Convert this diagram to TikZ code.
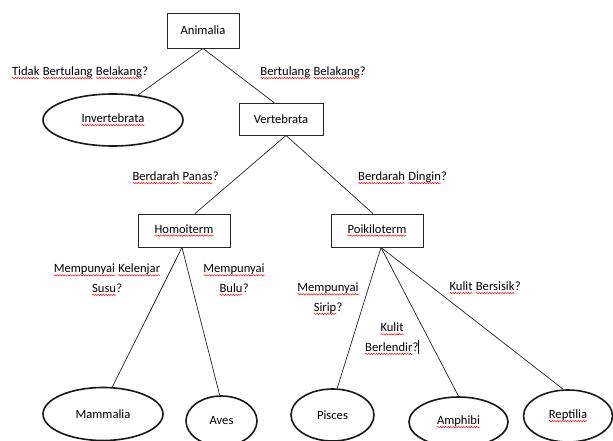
\documentclass[tikz,border=0pt]{standalone}
\usepackage{fontspec}
\setmainfont{Carlito}
\usetikzlibrary{shapes.geometric,decorations.pathmorphing}
\newcommand\sq[1]{\tikz[baseline=(sqw.base)]{\node[shape=rectangle, draw=none, minimum width=0pt, minimum height=0pt, inner sep=0pt, outer sep=0pt] (sqw) {#1};
  \draw[red, line width=0.45pt, decorate, decoration={snake, amplitude=0.7pt, segment length=2.6pt}]
    ([yshift=-2.4pt]sqw.base west) -- ([yshift=-2.4pt]sqw.base east);}}
\begin{document}
\begin{tikzpicture}[x=1pt,y=-1pt,
  every node/.style={font=\fontsize{12.6}{19.5}\selectfont, text=black},
  boxnode/.style={draw=black!85, line width=0.9pt, rectangle, inner sep=0pt},
  ellnode/.style={draw=black!90, line width=1.6pt, ellipse, inner sep=0pt},
  conn/.style={line width=0.7pt, draw=black!85},
  lbl/.style={align=center, inner sep=0pt}]
\fill[white] (0,0) rectangle (613,441);
\useasboundingbox (0,0) rectangle (613,441);
\clip (0,0) rectangle (613,441);
% nodes
\node[boxnode, minimum width=72pt, minimum height=35pt] (an) at (203,30.5) {Animalia};
\node[ellnode, minimum width=140pt, minimum height=52pt] (inv) at (113,120) {\sq{Invertebrata}};
\node[boxnode, minimum width=84pt, minimum height=32pt] (vert) at (281,119) {Vertebrata};
\node[boxnode, minimum width=92pt, minimum height=33pt] (hom) at (184,230.5) {\sq{Homoiterm}};
\node[boxnode, minimum width=92pt, minimum height=33pt] (poi) at (377,230.5) {\sq{Poikiloterm}};
\node[ellnode, minimum width=120pt, minimum height=53pt] (mam) at (103,414) {Mammalia};
\node[ellnode, minimum width=71pt, minimum height=50pt] (ave) at (221.5,421) {Aves};
\node[ellnode, minimum width=83pt, minimum height=52pt] (pis) at (332.5,415) {Pisces};
\node[ellnode, minimum width=99pt, minimum height=50pt] (amp) at (458.5,422) {\sq{Amphibi}};
\node[ellnode, minimum width=89pt, minimum height=52pt] (rep) at (568,416) {\sq{Reptilia}};
% labels
\node[lbl] (l1) at (80,73) {\sq{Tidak} \sq{Bertulang} \sq{Belakang}?};
\node[lbl] (l2) at (313,73) {\sq{Bertulang} \sq{Belakang}?};
\node[lbl] (l3) at (175.5,178) {\sq{Berdarah} \sq{Panas}?};
\node[lbl] (l4) at (402.5,178) {\sq{Berdarah} \sq{Dingin}?};
\node[lbl] (l5) at (107,280) {\sq{Mempunyai} \sq{Kelenjar}\\\sq{Susu}?};
\node[lbl] (l6) at (234,280) {\sq{Mempunyai}\\\sq{Bulu}?};
\node[lbl] (l7) at (328,299) {\sq{Mempunyai}\\\sq{Sirip}?};
\node[lbl] (l8) at (392,339) {\sq{Kulit}\\\sq{Berlendir}?\rule[-3pt]{0.5pt}{14pt}};
\node[lbl] (l9) at (485,288) {\sq{Kulit} \sq{Bersisik}?};
% connectors
\draw[conn] (an.south) -- (inv.45);
\draw[conn] (an.south) -- ([xshift=-7pt]vert.north);
\draw[conn] ([xshift=5pt]vert.south) -- ([xshift=11pt]hom.north);
\draw[conn] ([xshift=5pt]vert.south) -- ([xshift=-4pt]poi.north);
\draw[conn] ([xshift=-2pt]hom.south) -- (mam.71);
\draw[conn] ([xshift=-2pt]hom.south) -- (ave.94);
\draw[conn] ([xshift=4pt]poi.south) -- (pis.80);
\draw[conn] ([xshift=4pt]poi.south) -- (amp.north);
\draw[conn] ([xshift=4pt]poi.south) -- (rep.100);
\end{tikzpicture}
\end{document}
